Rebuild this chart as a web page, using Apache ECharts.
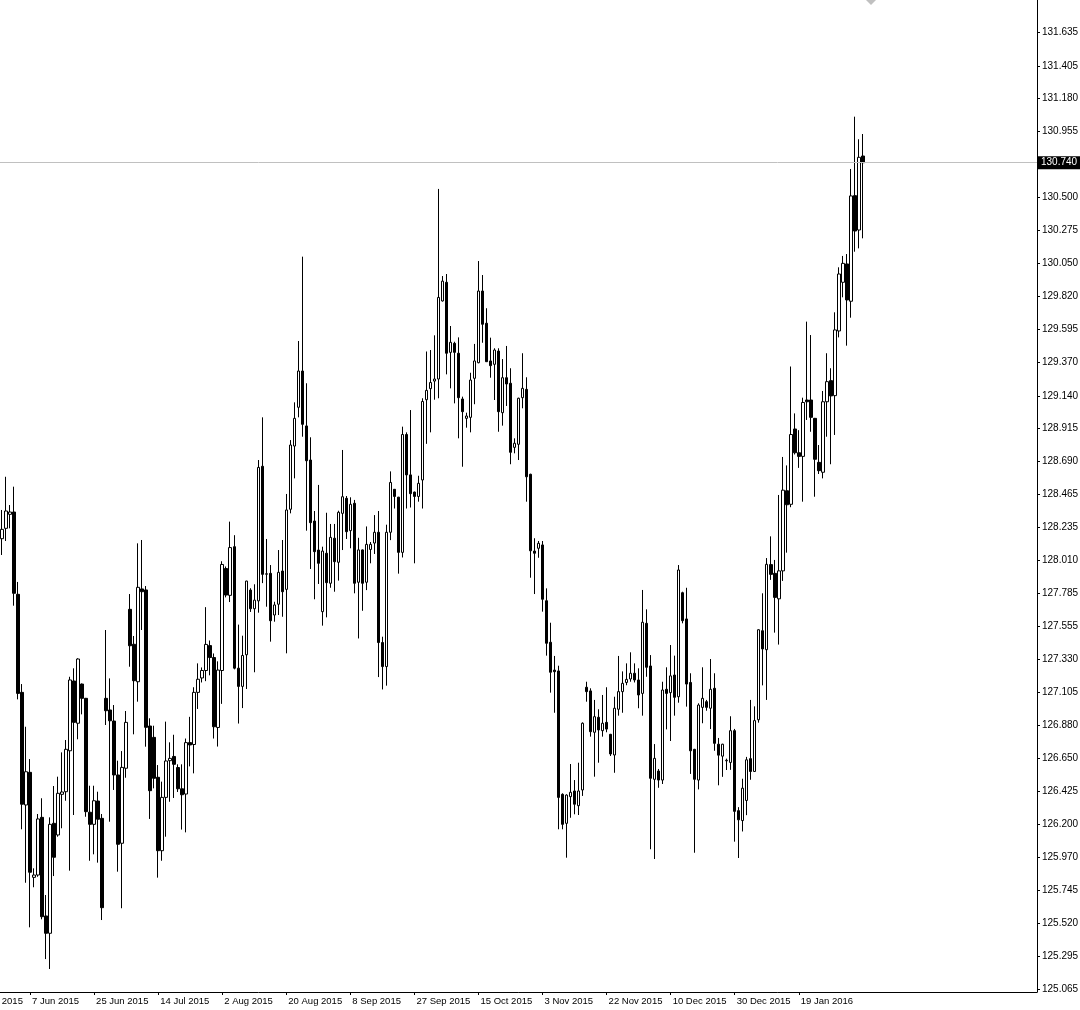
<!DOCTYPE html>
<html><head><meta charset="utf-8">
<script src="https://cdn.jsdelivr.net/npm/echarts@6/dist/echarts.min.js"></script>
<style>html,body{margin:0;padding:0;background:#fff}#c{width:1080px;height:1010px}</style>
</head><body><div id="c"></div>
<script>
const opens=[
128.159,128.230,128.326,128.342,127.777,127.104,126.331,126.555,125.834,125.850,
126.246,125.569,125.450,126.205,126.125,126.404,126.422,126.703,127.182,126.892,
127.161,127.063,126.281,126.198,126.358,126.239,127.063,126.983,126.907,126.537,
126.068,126.583,127.674,127.434,127.177,127.814,127.807,126.873,126.795,126.521,
126.017,126.383,126.635,126.664,126.588,126.442,126.406,126.759,126.746,127.104,
127.203,127.254,127.425,127.343,126.863,127.254,127.954,127.770,128.104,127.270,
127.145,127.362,127.806,127.678,127.732,128.656,127.915,127.921,127.635,127.709,
127.937,127.811,128.361,128.795,129.061,129.310,128.933,128.699,128.280,128.081,
127.658,128.059,127.853,128.162,127.997,128.333,128.436,128.214,128.402,127.860,
128.082,127.860,128.085,128.129,128.203,127.446,127.281,128.203,128.498,128.444,
128.065,128.874,128.597,128.479,128.449,128.562,129.113,129.189,129.241,129.255,
129.791,129.919,129.438,129.500,129.432,129.118,128.985,128.992,129.260,129.367,
129.859,129.638,129.379,129.356,129.447,129.024,129.264,129.226,128.786,128.807,
129.127,129.184,128.601,128.074,128.093,128.116,127.733,127.448,127.257,127.251,
126.404,126.205,126.388,126.427,126.326,126.434,127.139,127.114,126.830,126.933,
126.841,126.898,126.816,126.674,126.988,127.109,127.172,127.196,127.235,127.189,
127.097,127.578,127.285,126.507,126.564,126.502,127.125,127.102,127.223,127.074,
127.788,127.608,127.172,126.713,126.502,127.001,127.040,126.995,127.132,126.748,
126.666,126.634,126.623,126.841,126.292,126.224,126.362,126.649,126.561,126.916,
127.527,127.397,127.981,127.921,127.746,127.938,128.488,128.395,128.912,128.749,
128.724,129.111,129.111,128.985,128.683,128.615,129.099,129.244,129.141,129.585,
129.919,130.045,129.789,130.514,130.278,130.786];
const closes=[
128.223,128.349,128.342,127.784,127.097,126.336,126.559,125.869,125.850,126.235,
125.564,125.450,126.198,125.972,126.411,126.420,126.713,127.189,126.898,127.333,
127.063,126.285,126.198,126.360,126.233,125.626,126.978,126.909,126.537,126.061,
126.589,126.898,127.424,127.184,127.825,127.795,126.864,126.429,126.514,126.017,
126.383,126.633,126.651,126.610,126.442,126.401,126.759,126.743,127.104,127.194,
127.254,127.433,127.343,126.868,127.257,127.982,127.772,128.098,127.270,127.145,
127.357,127.868,127.678,127.737,128.648,127.914,127.918,127.596,127.704,127.928,
127.795,128.356,128.802,128.985,129.310,128.944,128.694,128.269,128.070,127.990,
128.074,127.857,128.168,128.001,128.340,128.447,128.207,128.395,127.853,128.082,
127.853,128.120,128.120,128.203,127.446,127.281,128.203,128.545,128.449,128.065,
128.874,128.597,128.468,128.449,128.539,129.101,129.177,129.231,129.255,129.815,
129.927,129.432,129.507,129.438,129.127,129.031,129.001,129.248,129.379,129.859,
129.631,129.374,129.347,129.454,129.031,129.264,129.221,128.752,128.814,129.123,
129.191,128.584,128.076,128.059,128.127,127.743,127.441,127.242,127.246,126.383,
126.198,126.399,126.418,126.336,126.427,126.892,127.109,126.834,126.937,126.846,
126.892,126.852,126.681,126.995,127.109,127.166,127.193,127.235,127.189,127.086,
127.585,127.276,126.514,126.651,126.502,127.120,127.097,127.217,127.070,127.944,
127.596,127.161,126.703,126.507,127.017,127.063,127.001,127.125,126.754,126.673,
126.748,126.638,126.841,126.287,126.229,126.446,126.641,126.561,126.910,127.534,
127.402,127.983,127.914,127.756,127.938,128.492,128.392,128.874,128.749,128.724,
129.094,129.099,128.992,128.704,128.626,129.099,129.237,129.139,129.592,129.976,
130.049,129.798,130.512,130.271,130.777,130.740];
const lows=[
128.047,128.143,128.230,127.699,127.056,126.164,125.797,125.491,125.766,125.838,
125.546,125.273,125.205,125.843,126.113,126.171,126.360,125.880,126.262,126.782,
126.953,126.250,125.948,125.992,125.935,125.541,126.880,126.216,126.434,125.873,
125.622,126.518,127.280,126.816,127.040,127.532,126.731,126.235,126.445,125.832,
125.948,126.113,126.353,126.379,126.420,126.162,126.143,126.596,126.548,126.990,
127.172,127.181,127.221,126.787,126.732,127.025,127.756,127.724,127.262,126.890,
126.996,127.127,127.656,127.242,127.651,127.854,127.692,127.452,127.589,127.635,
127.623,127.372,128.333,128.573,128.992,128.859,128.214,127.951,127.743,127.848,
127.562,127.619,127.822,127.795,127.871,128.081,128.157,128.093,127.784,127.474,
127.664,127.806,127.990,128.054,127.209,127.124,127.150,128.149,128.366,127.919,
128.030,128.366,128.373,127.990,128.413,128.366,128.810,128.889,129.113,129.123,
129.787,129.287,129.191,129.088,128.848,128.653,128.921,128.889,129.082,129.363,
129.504,129.372,129.264,129.111,128.893,128.935,129.070,128.670,128.745,128.699,
129.054,128.413,127.891,127.779,128.028,127.658,127.356,127.102,126.964,126.164,
126.164,125.969,126.243,126.267,126.262,126.393,127.040,126.800,126.525,126.621,
126.800,126.830,126.667,126.552,126.944,126.964,127.153,127.177,127.172,126.995,
126.944,127.211,126.027,125.960,126.449,126.475,126.850,126.770,126.944,127.033,
127.578,127.006,126.544,126.003,126.438,126.892,126.978,126.852,126.703,126.466,
126.524,126.571,126.572,126.079,125.967,126.149,126.261,126.504,126.558,126.896,
127.152,127.052,127.876,127.514,127.432,127.869,128.063,128.375,128.737,128.645,
128.413,128.974,128.893,128.447,128.603,128.573,128.859,128.670,128.871,129.541,
129.816,129.484,129.676,130.129,130.152,130.221];
const highs=[
128.356,128.584,128.390,128.516,127.862,127.161,126.868,126.646,125.896,126.269,
126.377,125.713,126.246,126.461,126.525,126.692,126.777,127.211,127.269,127.338,
127.165,127.066,126.463,126.463,126.422,126.269,127.532,127.200,127.017,126.635,
126.701,126.976,127.779,127.491,128.127,128.150,127.834,126.926,126.875,126.605,
126.491,126.903,126.761,126.813,126.610,126.610,126.787,126.936,127.139,127.303,
127.275,127.689,127.460,127.371,127.317,128.004,127.968,128.276,128.183,127.569,
127.493,127.870,127.819,127.846,128.699,128.992,128.157,127.978,127.726,128.081,
128.150,128.466,128.836,129.095,129.516,130.095,129.226,128.855,128.349,128.528,
128.104,128.337,128.260,128.260,128.351,128.768,128.452,128.443,128.425,128.165,
128.085,128.243,128.136,128.321,128.349,127.486,128.255,128.621,128.500,128.446,
128.928,128.889,129.042,128.482,128.591,129.123,129.444,129.454,129.555,130.560,
129.962,129.976,129.619,129.511,129.541,129.134,129.024,129.298,129.496,130.065,
129.969,129.741,129.539,129.466,129.466,129.392,129.482,129.329,128.848,129.127,
129.432,129.267,128.605,128.162,128.143,128.143,127.818,127.582,127.354,127.287,
126.411,126.404,126.612,126.502,126.621,126.898,127.177,127.132,127.052,126.988,
127.086,127.139,126.819,127.074,127.354,127.248,127.303,127.379,127.303,127.269,
127.807,127.674,127.360,126.749,126.578,127.177,127.276,127.429,127.356,127.978,
127.795,127.822,127.235,126.716,127.029,127.276,127.052,127.333,127.235,126.791,
126.751,126.649,126.940,126.853,126.316,126.511,126.661,127.052,127.008,127.537,
127.784,128.026,128.175,128.013,128.459,128.720,128.662,129.341,129.019,128.904,
129.127,129.649,129.557,128.988,128.802,129.173,129.432,129.329,129.713,130.022,
130.100,130.113,130.697,131.056,130.901,130.937];
const priceTicks=[125.065,125.295,125.520,125.745,125.970,126.200,126.425,126.650,126.880,127.105,
127.330,127.555,127.785,128.010,128.235,128.465,128.690,128.915,129.140,129.370,129.595,129.820,
130.050,130.275,130.500,130.955,131.180,131.405,131.635];
const monthNames=['Jan','Feb','Mar','Apr','May','Jun','Jul','Aug','Sep','Oct','Nov','Dec'];
const holidays=['25 Dec 2015','1 Jan 2016'];
const dates=[];
for(let d=new Date(Date.UTC(2015,4,19)); d.getTime()<=Date.UTC(2016,1,7); d.setUTCDate(d.getUTCDate()+1)){
  if(d.getUTCDay()===6) continue;
  const s=d.getUTCDate()+' '+monthNames[d.getUTCMonth()]+' '+d.getUTCFullYear();
  if(holidays.indexOf(s)>=0) continue;
  dates.push(s);
}
const lead=dates.length-opens.length;
const shiftBars=43;
const categories=dates.concat(new Array(shiftBars).fill(''));
const candles=[];
for(let i=0;i<lead;i++) candles.push('-');
for(let i=0;i<opens.length;i++) candles.push([opens[i],closes[i],lows[i],highs[i]]);
const lastClose=closes[closes.length-1];
const showLabel=function(idx,val){return val!=='' && idx%16===0 && idx<dates.length-1;};

const chart=echarts.init(document.getElementById('c'),null,{renderer:'canvas'});
chart.setOption({
  animation:false,
  backgroundColor:'#ffffff',
  textStyle:{fontFamily:'Liberation Sans'},
  grid:{left:-36,right:43,top:0,bottom:18,containLabel:false,outerBoundsMode:'none'},
  xAxis:{
    type:'category',data:categories,boundaryGap:true,
    axisLine:{show:true,lineStyle:{color:'#000',width:1}},
    axisTick:{show:true,alignWithLabel:true,interval:showLabel,length:3,lineStyle:{color:'#000'}},
    axisLabel:{interval:showLabel,align:'left',padding:[0,0,0,2],margin:4,color:'#000',fontSize:9.5,fontFamily:'Liberation Sans'},
    splitLine:{show:false}
  },
  yAxis:{
    type:'value',position:'right',min:125.047,max:131.857,
    axisLine:{show:true,lineStyle:{color:'#000',width:1}},
    axisTick:{show:true,length:3,customValues:priceTicks,lineStyle:{color:'#000'}},
    axisLabel:{customValues:priceTicks,formatter:function(v){return Number(v).toFixed(3);},margin:5,color:'#000',fontSize:10,fontFamily:'Liberation Sans'},
    splitLine:{show:false}
  },
  series:[{
    type:'candlestick',data:candles,barWidth:3,
    itemStyle:{color:'#ffffff',color0:'#000000',borderColor:'#000000',borderColor0:'#000000',borderWidth:1},
    emphasis:{disabled:true},
    markLine:{
      silent:true,symbol:['none','none'],animation:false,
      lineStyle:{color:'#c0c0c0',width:1,type:'solid'},
      label:{show:true,position:'end',formatter:function(){return lastClose.toFixed(3);},color:'#fff',backgroundColor:'#000',padding:[2,3,1,3],fontSize:10,fontFamily:'Liberation Sans',distance:1},
      data:[{yAxis:lastClose}]
    }
  }],
  graphic:[{type:'polygon',shape:{points:[[866,0],[876,0],[871,5]]},style:{fill:'#c0c0c0'},silent:true}]
});
</script></body></html>
